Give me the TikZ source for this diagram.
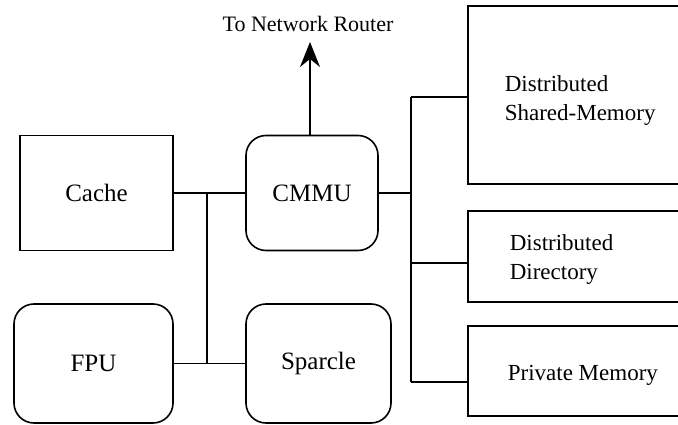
\documentclass[tikz,border=0pt]{standalone}
\usepackage{fontspec}
\setmainfont{Liberation Serif}
\usetikzlibrary{arrows.meta}
\begin{document}
\begin{tikzpicture}[x=1pt,y=-1pt,
  line width=1.6pt,
  blk/.style={draw, rectangle, inner sep=0pt, font=\fontsize{25}{30}\selectfont},
  rblk/.style={blk, rounded corners=20pt},
  lbl/.style={inner sep=0pt, align=left, font=\fontsize{23}{29}\selectfont},
  wire/.style={draw}]
\useasboundingbox (0,0) rectangle (678,425);
% processor-side units
\node[blk,  minimum width=153pt, minimum height=115pt] (cache)   at (96.5,193)  {Cache};
\node[rblk, minimum width=132pt, minimum height=115pt] (cmmu)    at (312,193)   {CMMU};
\node[rblk, minimum width=159pt, minimum height=119pt] (fpu)     at (93.5,363.5) {FPU};
\node[rblk, minimum width=145pt, minimum height=119pt] (sparcle) at (318.5,363.5) {Sparcle};
% memory-side units (open to the right edge)
\node[blk, minimum width=222pt, minimum height=178pt] (dsm) at (579,95)    {};
\node[blk, minimum width=222pt, minimum height=91pt]  (dir) at (579,256.5) {};
\node[blk, minimum width=222pt, minimum height=90pt]  (pm)  at (579,371)   {};
\node[lbl, anchor=west] (tdsm) at (504,100.5) {Distributed\\Shared-Memory};
\node[lbl, anchor=west] (tdir) at (509,259.5) {Distributed\\Directory};
\node[lbl, anchor=west] (tpm)  at (507,375)   {Private Memory};
% network port
\node[inner sep=0pt, font=\fontsize{22}{26}\selectfont] (net) at (308,24) {To Network Router};
\coordinate (tip) at (310,42);
\draw[-{Stealth[length=25pt,width=20pt,inset=8pt]}] (cmmu.north -| tip) -- (tip);
% processor bus
\coordinate (ja) at (207,193);
\coordinate (jb) at (207,363.5);
\draw (cache.east) -- (cmmu.west);
\draw (fpu.east) -- (sparcle.west);
\draw (ja) -- (jb);
% memory bus
\coordinate (m0) at (411,193);
\coordinate (m1) at (411,97);
\coordinate (m2) at (411,263);
\coordinate (m3) at (411,382);
\draw (cmmu.east) -- (m0);
\draw (m1) -- (m3);
\draw (m1) -- (m1 -| dsm.west);
\draw (m2) -- (m2 -| dir.west);
\draw (m3) -- (m3 -| pm.west);
\end{tikzpicture}
\end{document}
